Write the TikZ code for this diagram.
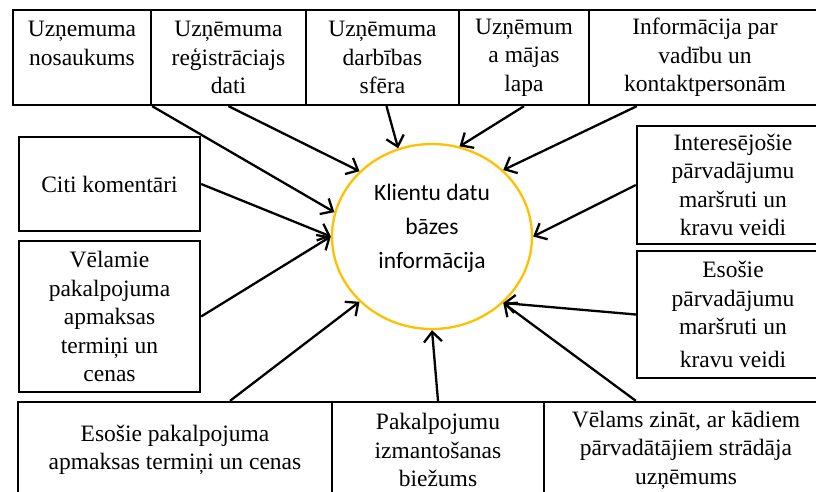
\documentclass[tikz,border=0pt]{standalone}
\usepackage{fontspec}
\newfontfamily\boxfont{Liberation Serif}
\newfontfamily\calfont{Carlito}
\usetikzlibrary{shapes.geometric,arrows.meta}
\definecolor{ringgold}{HTML}{FFC000}

\begin{document}
\begin{tikzpicture}[x=1pt,y=-1pt,
	box/.style={draw,line width=2.3pt,align=center,inner sep=0pt,font=\boxfont\fontsize{23.5}{28.5}\selectfont},
	feed/.style={-{Straight Barb[length=10pt,width=18pt]},line width=2.3pt}]
	\clip (0,0) rectangle (816,491);
	\useasboundingbox (0,0) rectangle (816,491);
	\node[draw=ringgold,line width=2.3pt,ellipse,minimum width=200pt,minimum height=185pt,align=center,inner sep=0pt,font=\calfont\fontsize{23.5}{34}\selectfont] (klient) at (432,236.5) {Klientu datu\\bāzes\\informācija\\[-14pt]\mbox{}};
	\node[box,minimum width=138pt,minimum height=95pt] (nosaukums) at (82,57.5) {Uzņemuma\\nosaukums\\\mbox{}};
	\node[box,minimum width=155pt,minimum height=95pt] (regdati) at (228.5,57.5) {Uzņēmuma\\reģistrāciajs\\dati};
	\node[box,minimum width=153pt,minimum height=95pt] (sfera) at (382.5,57.5) {Uzņēmuma\\darbības\\sfēra};
	\node[box,minimum width=130pt,minimum height=95pt] (lapa) at (524,57.5) {Uzņēmum\\a mājas\\lapa};
	\node[box,minimum width=232pt,minimum height=95pt] (kontakti) at (705,57.5) {Informācija par\\vadību un\\kontaktpersonām};
	\node[box,minimum width=181pt,minimum height=94pt] (komentari) at (109.5,184) {Citi komentāri};
	\node[box,minimum width=181pt,minimum height=151pt] (velamie) at (109.5,316.5) {Vēlamie\\pakalpojuma\\apmaksas\\termiņi un\\cenas};
	\node[box,minimum width=192pt,minimum height=118pt] (intmarsruti) at (733,185) {Interesējošie\\pārvadājumu\\maršruti un\\kravu veidi};
	\node[box,minimum width=192pt,minimum height=127pt] (esmarsruti) at (733,314.5) {Esošie\\pārvadājumu\\maršruti un\\[4pt]kravu veidi};
	\node[box,minimum width=314pt,minimum height=96pt] (apmaksa) at (175,450) {Esošie pakalpojuma\\apmaksas termiņi un cenas};
	\node[box,minimum width=212pt,minimum height=96pt] (biezums) at (438,450) {Pakalpojumu\\izmantošanas\\biežums};
	\node[box,minimum width=284pt,minimum height=96pt] (zinat) at (686,450) {Vēlams zināt, ar kādiem\\pārvadātājiem strādāja\\uzņēmums};
	\draw[feed] (nosaukums.south east) -- (klient.166);
	\draw[feed] (regdati.south) -- (klient.138);
	\draw[feed] ([xshift=4pt]sfera.south) -- (klient.111);
	\draw[feed] (lapa.south) -- (klient.73);
	\draw[feed] ([xshift=49pt]kontakti.south west) -- (klient.43);
	\draw[feed] (intmarsruti.west) -- (klient.0);
	\draw[feed] (esmarsruti.west) -- (klient.317);
	\draw[feed] ([xshift=93pt]zinat.north west) -- (klient.317);
	\draw[feed] (biezums.north) -- (klient.270);
	\draw[feed] ([xshift=55pt]apmaksa.north) -- (klient.222);
	\draw[feed] (velamie.east) -- (klient.180);
	\draw[feed] (komentari.east) -- (klient.180);
\end{tikzpicture}
\end{document}
